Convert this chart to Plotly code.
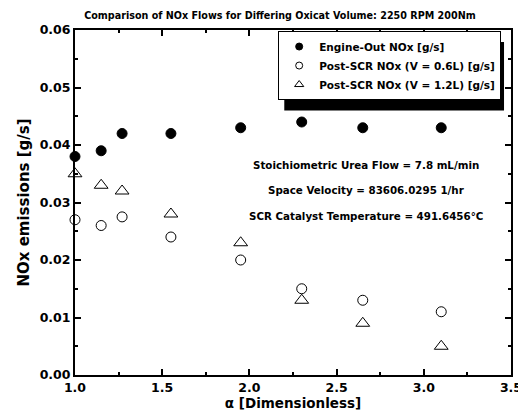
import plotly.graph_objects as go

alpha = [1.0, 1.15, 1.27, 1.55, 1.95, 2.3, 2.65, 3.1]
engine_out = [0.038, 0.039, 0.042, 0.042, 0.043, 0.044, 0.043, 0.043]
post_scr_06 = [0.027, 0.026, 0.0275, 0.024, 0.020, 0.015, 0.013, 0.011]
post_scr_12 = [0.035, 0.033, 0.032, 0.028, 0.023, 0.013, 0.009, 0.005]

series_names = ["Engine-Out NOx [g/s]", "Post-SCR NOx (V = 0.6L) [g/s]", "Post-SCR NOx (V = 1.2L) [g/s]"]
x_ticks = [1.0, 1.5, 2.0, 2.5, 3.0, 3.5]
y_ticks = [0.00, 0.01, 0.02, 0.03, 0.04, 0.05, 0.06]

FONT = "DejaVu Sans"
BOLD = dict(family=FONT, color="black", weight="bold")

symbols = ["circle", "circle-open", "triangle-up-open"]
sizes = [10, 10, 12]
legend_sizes = [7, 7, 8]
data = [engine_out, post_scr_06, post_scr_12]

fig = go.Figure()
for name, sym, sz, ys in zip(series_names, symbols, sizes, data):
    fig.add_trace(go.Scatter(x=alpha, y=ys, mode="markers", name=name, showlegend=False,
                             marker=dict(symbol=sym, size=sz, color="black", line=dict(color="black", width=1)),
                             cliponaxis=False))
for name, sym, sz in zip(series_names, symbols, legend_sizes):
    fig.add_trace(go.Scatter(x=[None], y=[None], mode="markers", name=f"<b>{name}</b>", showlegend=True,
                             marker=dict(symbol=sym, size=sz, color="black", line=dict(color="black", width=1))))

axis_common = dict(showline=True, linecolor="black", linewidth=2, mirror="ticks", ticks="inside",
                   ticklen=6, tickwidth=1.5, tickcolor="black", showgrid=False, zeroline=False,
                   tickfont=dict(size=12.5, **BOLD))

fig.update_xaxes(range=[1.0, 3.5], tickvals=x_ticks, ticktext=[f"<b>{v:.1f}</b>" for v in x_ticks],
                 minor=dict(ticks="inside", ticklen=3, tickcolor="black", dtick=0.25, tick0=1.0),
                 title=dict(text="<b>α [Dimensionless]</b>", font=dict(size=13.5, **BOLD), standoff=5),
                 **axis_common)
fig.update_yaxes(range=[0.0, 0.06], tickvals=y_ticks, ticktext=[f"<b>{v:.2f}</b>" for v in y_ticks],
                 minor=dict(ticks="inside", ticklen=3, tickcolor="black", dtick=0.005, tick0=0.0),
                 title=dict(text="<b>NOx emissions [g/s]</b>", font=dict(size=15, **BOLD), standoff=6),
                 **axis_common)

# legend drop shadow
fig.add_shape(type="rect", xref="paper", yref="paper", x0=0.480, x1=0.984, y0=0.767, y1=0.9655,
              fillcolor="black", line=dict(width=0), layer="below")

fig.update_layout(
    width=526, height=413,
    margin=dict(l=67, r=13, t=22, b=43),
    paper_bgcolor="white", plot_bgcolor="white",
    title=dict(text="<b>Comparison of NOx Flows for Differing Oxicat Volume: 2250 RPM 200Nm</b>",
               x=0.517, xanchor="center", y=0.99, yanchor="top",
               font=dict(size=9.6, **BOLD)),
    legend=dict(x=0.466, y=0.997, xanchor="left", yanchor="top", bgcolor="white",
                bordercolor="black", borderwidth=1, font=dict(size=10.5, **BOLD),
                itemsizing="trace", tracegroupgap=0),
    showlegend=True,
)

notes = ["Stoichiometric Urea Flow = 7.8 mL/min",
         "Space Velocity = 83606.0295 1/hr",
         "SCR Catalyst Temperature = 491.6456°C"]
note_y = [0.0365, 0.0321, 0.0276]
for t, yy in zip(notes, note_y):
    fig.add_annotation(x=2.67, y=yy, xref="x", yref="y", text=f"<b>{t}</b>", showarrow=False,
                       font=dict(size=10.3, **BOLD))

fig.write_html("out.html")
